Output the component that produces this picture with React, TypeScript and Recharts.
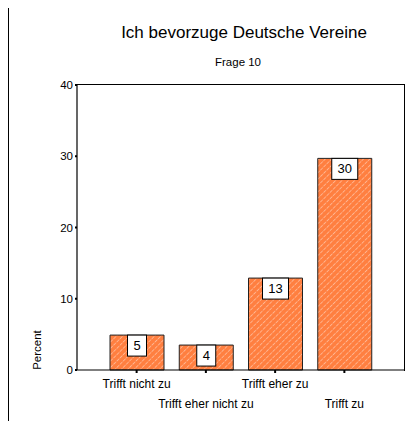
import { BarChart, Bar, XAxis, YAxis, LabelList } from 'recharts';

const categories = ['Trifft nicht zu', 'Trifft eher nicht zu', 'Trifft eher zu', 'Trifft zu'];
const percents = [4.9, 3.5, 12.9, 29.7];
const yTicks = [0, 10, 20, 30, 40];

const data = categories.map((name, i) => ({ name, value: percents[i] }));

const FONT = '"Liberation Sans", Arial, sans-serif';

function CategoryTick({ x, y, payload, index }: any) {
  const dy = index % 2 === 0 ? 13 : 33;
  return (
    <text x={x} y={y + dy} textAnchor="middle" fontSize={12} fill="#000" fontFamily={FONT}>
      {payload.value}
    </text>
  );
}

function ValueBox({ x, y, width, value }: any) {
  const label = String(Math.round(value));
  const w = label.length > 1 ? 26 : 19;
  const cx = x + width / 2;
  return (
    <g>
      <rect x={cx - w / 2} y={y} width={w} height={21} fill="#fff" stroke="#000" strokeWidth={1} />
      <text x={cx} y={y + 15} textAnchor="middle" fontSize={13} fill="#000" fontFamily={FONT}>
        {label}
      </text>
    </g>
  );
}

export default function App() {
  return (
    <div style={{ position: 'relative', margin: '-8px 0 0 -8px', width: 414, height: 421, background: '#fff', fontFamily: FONT }}>
      <div style={{ position: 'absolute', left: 8, top: 6, width: 406, height: 2, background: '#000' }} />
      <div style={{ position: 'absolute', left: 7, top: 6, width: 2, height: 415, background: '#000' }} />
      <div style={{ position: 'absolute', left: 0, width: 488, top: 23, fontSize: 17, textAlign: 'center', color: '#000' }}>
        Ich bevorzuge Deutsche Vereine
      </div>
      <div style={{ position: 'absolute', left: 0, width: 476, top: 56, fontSize: 11.5, textAlign: 'center', color: '#000' }}>
        Frage 10
      </div>
      <div style={{ position: 'absolute', left: 0, top: 0 }}>
        <BarChart width={414} height={421} data={data} margin={{ top: 85, right: 10, left: 47, bottom: 0 }}>
          <defs>
            <pattern id="hatch" width="4.5" height="4.5" patternUnits="userSpaceOnUse" patternTransform="rotate(45)">
              <rect width="4.5" height="4.5" fill="#FF7F40" />
              <line x1="0" y1="0" x2="0" y2="4.5" stroke="#fff" strokeWidth="0.9" strokeDasharray="2 1" opacity={0.85} />
            </pattern>
          </defs>
          <XAxis
            dataKey="name"
            height={51}
            padding={{ left: 25, right: 25 }}
            axisLine={{ stroke: '#000', strokeWidth: 1.2 }}
            tickLine={{ stroke: '#000', strokeWidth: 2 }}
            tickSize={3}
            tick={<CategoryTick />}
            interval={0}
          />
          <YAxis
            width={30}
            domain={[0, 40]}
            ticks={yTicks}
            axisLine={{ stroke: '#000', strokeWidth: 1.2 }}
            tickLine={{ stroke: '#000', strokeWidth: 2 }}
            tickSize={2}
            tick={{ fontSize: 11.5, fill: '#000', fontFamily: FONT }}
            label={{
              content: () => (
                <text x={41} y={350} transform="rotate(-90 41 350)" textAnchor="middle" fontSize={11.5} fill="#000" fontFamily={FONT}>
                  Percent
                </text>
              ),
            }}
          />
          <Bar dataKey="value" barSize={54} fill="url(#hatch)" stroke="#222" strokeWidth={1} isAnimationActive={false}>
            <LabelList dataKey="value" content={<ValueBox />} />
          </Bar>
        </BarChart>
      </div>
      <div
        style={{
          position: 'absolute',
          left: 77,
          top: 84,
          width: 328,
          height: 287,
          borderTop: '1px solid #000',
          borderRight: '1px solid #000',
          boxSizing: 'border-box',
          pointerEvents: 'none',
        }}
      />
    </div>
  );
}
